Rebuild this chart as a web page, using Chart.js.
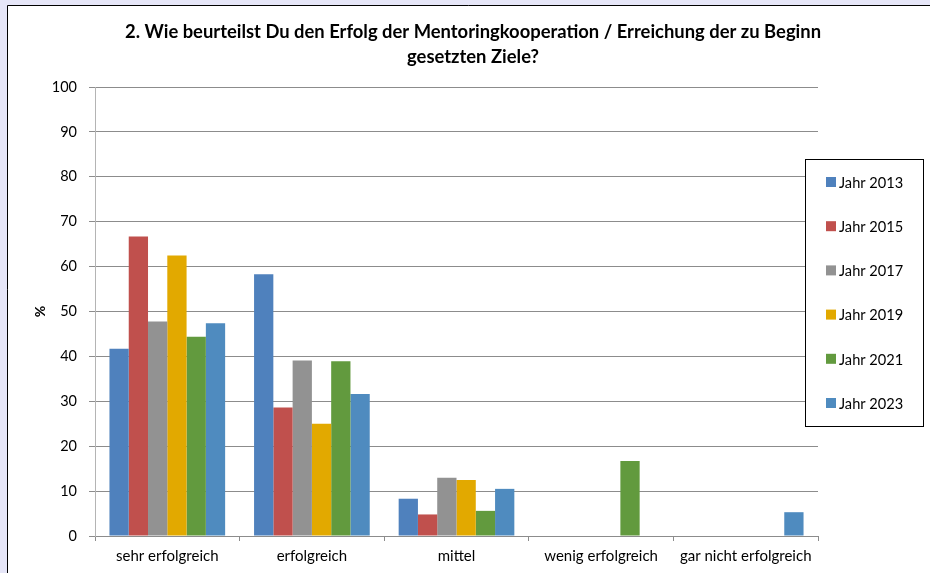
<!DOCTYPE html>
<html>
<head>
<meta charset="utf-8">
<script src="https://cdn.jsdelivr.net/npm/chart.js@4.4.0/dist/chart.umd.min.js"></script>
<style>
    html, body { margin: 0; padding: 0; background: #e6e6f8; }
    #wrap { position: relative; width: 930px; height: 573px; }
</style>
</head>
<body>
<div id="wrap"><canvas id="chart" width="930" height="573"></canvas></div>
<script>
// ---- data ----
const categories = ['sehr erfolgreich', 'erfolgreich', 'mittel', 'wenig erfolgreich', 'gar nicht erfolgreich'];
const seriesLabels = ['Jahr 2013', 'Jahr 2015', 'Jahr 2017', 'Jahr 2019', 'Jahr 2021', 'Jahr 2023'];
const jahr2013 = [41.7, 58.3, 8.3, 0, 0];
const jahr2015 = [66.7, 28.6, 4.8, 0, 0];
const jahr2017 = [47.8, 39.1, 13.0, 0, 0];
const jahr2019 = [62.5, 25.0, 12.5, 0, 0];
const jahr2021 = [44.4, 38.9, 5.6, 16.7, 0];
const jahr2023 = [47.4, 31.6, 10.5, 0, 5.3];
const titleLines = ['2. Wie beurteilst Du den Erfolg der Mentoringkooperation / Erreichung der zu Beginn', 'gesetzten Ziele?'];

const seriesValues = [jahr2013, jahr2015, jahr2017, jahr2019, jahr2021, jahr2023];
const seriesColors = ['#4f81bd', '#c0504d', '#929292', '#e2a900', '#629a3e', '#4f8bbf'];

const FONT = 'Lato, "Open Sans", sans-serif';

/**
 * Background panel, title and boxed legend
 */
const decorPlugin = {
    id: 'decor',
    beforeDraw(chart) {
        const ctx = chart.ctx;
        ctx.save();
        ctx.fillStyle = '#e6e6f8';
        ctx.fillRect(0, 0, chart.width, chart.height);
        ctx.fillStyle = '#ffffff';
        ctx.fillRect(7, 5, chart.width - 7, chart.height - 5);
        ctx.strokeStyle = '#000000';
        ctx.lineWidth = 1;
        ctx.beginPath();
        ctx.moveTo(7.5, chart.height);
        ctx.lineTo(7.5, 5.5);
        ctx.lineTo(chart.width, 5.5);
        ctx.stroke();
        ctx.restore();
    },
    afterDraw(chart) {
        const ctx = chart.ctx;
        ctx.save();
        // title
        ctx.fillStyle = '#000000';
        ctx.font = 'bold 18.4px ' + FONT;
        ctx.textAlign = 'center';
        ctx.textBaseline = 'middle';
        titleLines.forEach((line, i) => ctx.fillText(line, 473, 32 + i * 25));

        // legend
        ctx.fillStyle = '#ffffff';
        ctx.fillRect(805, 159, 118, 267);
        ctx.strokeStyle = '#000000';
        ctx.strokeRect(805.5, 159.5, 118, 267);
        ctx.font = '14.6px ' + FONT;
        ctx.textAlign = 'left';
        chart.data.datasets.forEach((ds, i) => {
            const y = 182 + i * 44.2;
            ctx.fillStyle = ds.backgroundColor;
            ctx.fillRect(826, y - 5, 10, 10);
            ctx.fillStyle = '#000000';
            ctx.fillText(ds.label, 839, y + 1);
        });
        ctx.restore();
    }
};

const datasets = seriesLabels.map((label, i) => ({
    label: label,
    data: seriesValues[i],
    backgroundColor: seriesColors[i],
    borderWidth: 0,
    barPercentage: 1.0,
    categoryPercentage: 0.8
}));

new Chart(document.getElementById('chart'), {
    type: 'bar',
    data: { labels: categories, datasets: datasets },
    options: {
        responsive: false,
        animation: false,
        layout: { padding: { left: 8, top: 87, right: 112, bottom: 0 } },
        plugins: {
            legend: { display: false },
            title: { display: false },
            tooltip: { enabled: false }
        },
        scales: {
            x: {
                grid: {
                    display: true,
                    drawOnChartArea: false,
                    offset: true,
                    tickLength: 5,
                    color: '#8c8c8c'
                },
                border: { color: '#8c8c8c' },
                ticks: {
                    color: '#000000',
                    padding: 6,
                    font: { family: FONT, size: 15 },
                    maxRotation: 0,
                    autoSkip: false
                },
                afterFit(scale) { scale.height = 37; }
            },
            y: {
                min: 0,
                max: 100,
                ticks: {
                    stepSize: 10,
                    color: '#000000',
                    padding: 12,
                    font: { family: FONT, size: 14.5 }
                },
                grid: { color: '#8c8c8c', tickLength: 6 },
                border: { color: '#b4b4b4' },
                title: {
                    display: true,
                    text: '%',
                    color: '#000000',
                    font: { family: FONT, size: 14, weight: 'bold' },
                    padding: { top: 24, bottom: 0 }
                },
                afterFit(scale) { scale.width = 87; }
            }
        }
    },
    plugins: [decorPlugin]
});
</script>
</body>
</html>
